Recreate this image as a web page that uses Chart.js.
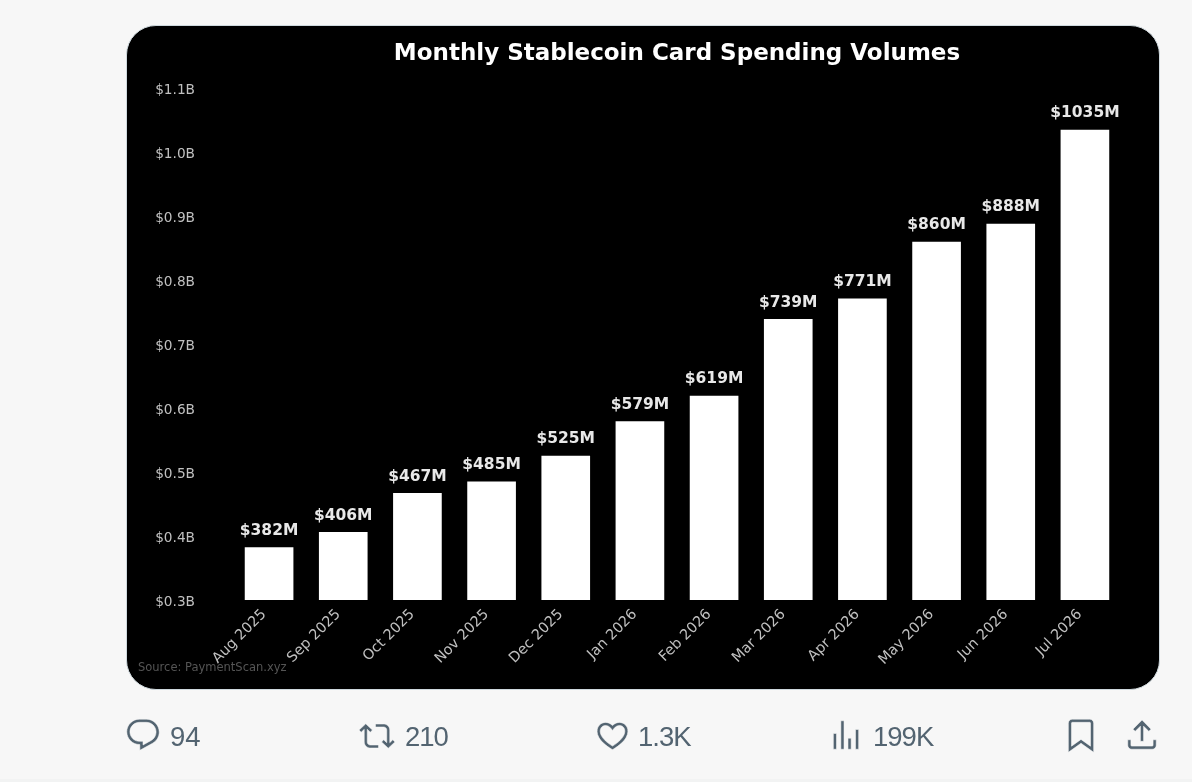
<!DOCTYPE html>
<html>
<head>
<meta charset="utf-8">
<style>
  html, body { margin: 0; width: 1192px; height: 782px; overflow: hidden; background: #f7f7f7; }
  #card { position: absolute; left: 126px; top: 25px; width: 1032px; height: 663px; background: #000; border: 1px solid #cfd9de; border-radius: 30px; }
  #chart { position: absolute; left: 0; top: 0; }
  #line { position: absolute; left: 0; top: 779px; width: 1192px; height: 3px; background: #f2f3f3; }
  .ico { position: absolute; fill: #536471; stroke: #f7f7f7; stroke-width: 0.35; }
  .num { position: absolute; top: 720px; font: 27.5px/34px "Liberation Sans", sans-serif; color: #536471; letter-spacing: -1px; }
</style>
</head>
<body>
<div id="card"></div>
<canvas id="chart" width="1192" height="782"></canvas>
<div id="line"></div>

<svg class="ico" style="left:124px;top:716px" width="38" height="38" viewBox="0 0 24 24"><path d="M1.751 10c0-4.42 3.584-8 8.005-8h4.366c4.49 0 8.129 3.64 8.129 8.13 0 2.96-1.607 5.68-4.196 7.11l-8.054 4.46v-3.69h-.067c-4.49.1-8.183-3.51-8.183-8.01zm8.005-6c-3.317 0-6.005 2.69-6.005 6 0 3.37 2.77 6.08 6.138 6.01l.351-.01h1.761v2.3l5.087-2.81c1.951-1.08 3.163-3.13 3.163-5.36 0-3.39-2.744-6.13-6.129-6.13H9.756z"/></svg>
<div class="num" style="left:170px;letter-spacing:0">94</div>
<svg class="ico" style="left:359px;top:718px" width="36" height="36" viewBox="0 0 24 24"><path d="M4.5 3.88l4.432 4.14-1.364 1.46L5.5 7.55V16c0 1.1.896 2 2 2H13v2H7.5c-2.209 0-4-1.79-4-4V7.55L1.432 9.48.068 8.02 4.5 3.88zM16.5 6H11V4h5.5c2.209 0 4 1.79 4 4v8.45l2.068-1.93 1.364 1.46-4.432 4.14-4.432-4.14 1.364-1.46 2.068 1.93V8c0-1.1-.896-2-2-2z"/></svg>
<div class="num" style="left:405px">210</div>
<svg class="ico" style="left:594px;top:717px" width="37" height="37" viewBox="0 0 24 24"><path d="M16.697 5.5c-1.222-.06-2.679.51-3.89 2.16l-.805 1.09-.806-1.09C9.984 6.01 8.526 5.44 7.304 5.5c-1.243.07-2.349.78-2.91 1.91-.552 1.12-.633 2.78.479 4.82 1.074 1.97 3.257 4.27 7.129 6.61 3.87-2.34 6.052-4.64 7.126-6.61 1.111-2.04 1.03-3.7.477-4.82-.561-1.13-1.666-1.84-2.908-1.91zm4.187 7.69c-1.351 2.48-4.001 5.12-8.379 7.67l-.503.3-.504-.3c-4.379-2.55-7.029-5.19-8.382-7.67-1.36-2.5-1.41-4.86-.514-6.67.887-1.79 2.647-2.91 4.601-3.01 1.651-.09 3.368.56 4.798 2.01 1.429-1.45 3.146-2.1 4.796-2.01 1.954.1 3.714 1.22 4.601 3.01.896 1.81.846 4.17-.514 6.67z"/></svg>
<div class="num" style="left:638px">1.3K</div>
<svg class="ico" style="left:827px;top:716px" width="38" height="38" viewBox="0 0 24 24"><path d="M8.75 21V3h2v18h-2zM18 21V8.5h2V21h-2zM4 21l.004-10h2L6 21H4zm9.248 0v-7h2v7h-2z"/></svg>
<div class="num" style="left:873px">199K</div>
<svg class="ico" style="left:1062px;top:716px" width="38" height="38" viewBox="0 0 24 24"><path d="M4 4.5C4 3.12 5.119 2 6.5 2h11C18.881 2 20 3.12 20 4.5v18.44l-8-5.71-8 5.71V4.5zM6.5 4c-.276 0-.5.22-.5.5v14.56l6-4.29 6 4.29V4.5c0-.28-.224-.5-.5-.5h-11z"/></svg>
<svg class="ico" style="left:1123px;top:716px" width="38" height="38" viewBox="0 0 24 24"><path d="M12 2.59l5.7 5.7-1.41 1.42L13 6.41V16h-2V6.41l-3.3 3.3-1.41-1.42L12 2.59zM21 15l-.02 3.51c0 1.38-1.12 2.49-2.5 2.49H5.5C4.11 21 3 19.88 3 18.5V15h2v3.5c0 .28.22.5.5.5h12.98c.28 0 .5-.22.5-.5L19 15h2z"/></svg>

<script src="https://cdn.jsdelivr.net/npm/chart.js@4"></script>
<script>
const months = ['Aug 2025', 'Sep 2025', 'Oct 2025', 'Nov 2025', 'Dec 2025', 'Jan 2026',
                'Feb 2026', 'Mar 2026', 'Apr 2026', 'May 2026', 'Jun 2026', 'Jul 2026'];
const volumes = [382, 406, 467, 485, 525, 579, 619, 739, 771, 860, 888, 1035]; // $M
const titleText = 'Monthly Stablecoin Card Spending Volumes';
const sourceText = 'Source: PaymentScan.xyz';
const FONT = '"DejaVu Sans", sans-serif';

// value labels over the bars and the source note
const barLabels = {
  id: 'barLabels',
  afterDatasetsDraw(chart) {
    const ctx = chart.ctx;
    const bars = chart.getDatasetMeta(0).data;
    ctx.save();
    ctx.fillStyle = '#e8e8e8';
    ctx.font = 'bold 15.5px ' + FONT;
    ctx.textAlign = 'center';
    ctx.textBaseline = 'bottom';
    bars.forEach((bar, i) => ctx.fillText('$' + volumes[i] + 'M', bar.x, bar.y - 9));
    ctx.fillStyle = '#555555';
    ctx.font = '11.5px ' + FONT;
    ctx.textAlign = 'left';
    ctx.textBaseline = 'middle';
    ctx.fillText(sourceText, 138, 668);
    ctx.restore();
  }
};

new Chart(document.getElementById('chart').getContext('2d'), {
  type: 'bar',
  data: {
    labels: months,
    datasets: [{ data: volumes, backgroundColor: '#ffffff', barThickness: 48 }]
  },
  options: {
    responsive: false,
    animation: false,
    devicePixelRatio: 1,
    layout: { padding: { left: 150, right: 70, top: 0, bottom: 93 } },
    plugins: {
      legend: { display: false },
      tooltip: { enabled: false },
      title: {
        display: true,
        text: titleText,
        fullSize: false,
        color: '#ffffff',
        font: { family: FONT, size: 23, weight: 'bold', lineHeight: 1.2 },
        padding: { top: 40, bottom: 21 }
      }
    },
    scales: {
      x: {
        grid: { display: false, drawTicks: false },
        border: { display: false },
        afterFit: s => { s.height = 89; },
        ticks: {
          color: '#c0c0c0',
          font: { family: FONT, size: 14.4 },
          minRotation: 45,
          maxRotation: 45,
          autoSkip: false,
          padding: 6,
          labelOffset: -5
        }
      },
      y: {
        min: 300,
        max: 1100,
        grid: { display: false, drawTicks: false },
        border: { display: false },
        afterFit: s => { s.width = 82; },
        ticks: {
          stepSize: 100,
          color: '#c0c0c0',
          font: { family: FONT, size: 13.7 },
          padding: 37,
          labelOffset: 2,
          callback: v => '$' + (v / 1000).toFixed(1) + 'B'
        }
      }
    }
  },
  plugins: [barLabels]
});
</script>
</body>
</html>
